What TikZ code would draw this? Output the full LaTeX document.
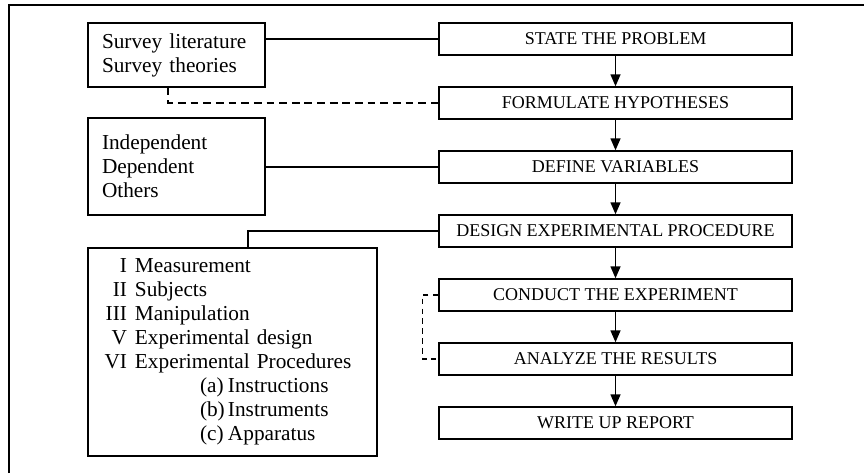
\documentclass[tikz,border=0pt]{standalone}
\usepackage{fontspec}
\setmainfont{Liberation Serif}
\usetikzlibrary{arrows.meta,calc}

% items of the procedure list
\newcommand{\numitem}[2]{\makebox[0.825cm][r]{#1}\hspace{0.2cm}#2}
\newcommand{\procsub}[2]{\hspace*{2.65cm}\makebox[0.7cm][l]{#1}#2}

\tikzset{
  stepbox/.style={draw, line width=1pt, minimum width=8.825cm, minimum height=0.8cm, inner sep=0pt, font=\fontsize{12.8}{15}\selectfont},
  sidebox/.style={draw, line width=1pt, align=left, inner xsep=0.35cm, inner ysep=0pt, font=\fontsize{15.15}{17.1}\selectfont},
  link/.style={line width=1pt},
  flow/.style={line width=1pt, -{Triangle[length=0.3cm,width=0.25cm]}}
}

\begin{document}
\begin{tikzpicture}
\useasboundingbox (0,0) rectangle (21.6,-11.825);

% frame
\draw[line width=1.5pt] (0.225,-11.825) |- (21.6,-0.125);

% main steps
\node[stepbox] (state) at (15.3875,-0.975) {STATE THE PROBLEM};
\node[stepbox] (formulate) at (15.3875,-2.575) {FORMULATE HYPOTHESES};
\node[stepbox] (define) at (15.3875,-4.175) {DEFINE VARIABLES};
\node[stepbox] (design) at (15.3875,-5.775) {DESIGN EXPERIMENTAL PROCEDURE};
\node[stepbox] (conduct) at (15.3875,-7.375) {CONDUCT THE EXPERIMENT};
\node[stepbox] (analyze) at (15.3875,-8.975) {ANALYZE THE RESULTS};
\node[stepbox] (report) at (15.3875,-10.575) {WRITE UP REPORT};

\foreach \a/\b in {state/formulate, formulate/define, define/design, design/conduct, conduct/analyze, analyze/report}
  \draw[flow] (\a) -- (\b);

% side boxes
\node[sidebox, text width=3.725cm, minimum height=1.6cm] (survey) at (4.4125,-1.375) {Survey literature\\Survey theories};
\node[sidebox, text width=3.725cm, minimum height=2.425cm] (vars) at (4.4125,-4.1625) {Independent\\Dependent\\Others};
\node[sidebox, inner xsep=0.15cm, text width=6.925cm, minimum height=5.2cm] (proc) at (5.8125,-8.8) {%
\numitem{I}{Measurement}\\
\numitem{II}{Subjects}\\
\numitem{III}{Manipulation}\\
\numitem{V}{Experimental design}\\
\numitem{VI}{Experimental Procedures}\\
\procsub{(a)}{Instructions}\\
\procsub{(b)}{Instruments}\\
\procsub{(c)}{Apparatus}};

% connections
\coordinate (surveyfoot) at ($(survey.south west)!0.452!(survey.south east)$);
\coordinate (proctop) at ($(proc.north west)!0.554!(proc.north east)$);
\draw[link] (state.west) -- (state.west -| survey.east);
\draw[link, dash pattern=on 5.5pt off 3.5pt] (surveyfoot) |- (formulate.west);
\draw[link] (define.west) -- (define.west -| vars.east);
\draw[link] (design.west) -| (proctop);
\draw[link, dash pattern=on 4pt off 3pt] (conduct.west) -- ++(-0.4,0) |- (analyze.west);
\end{tikzpicture}
\end{document}
